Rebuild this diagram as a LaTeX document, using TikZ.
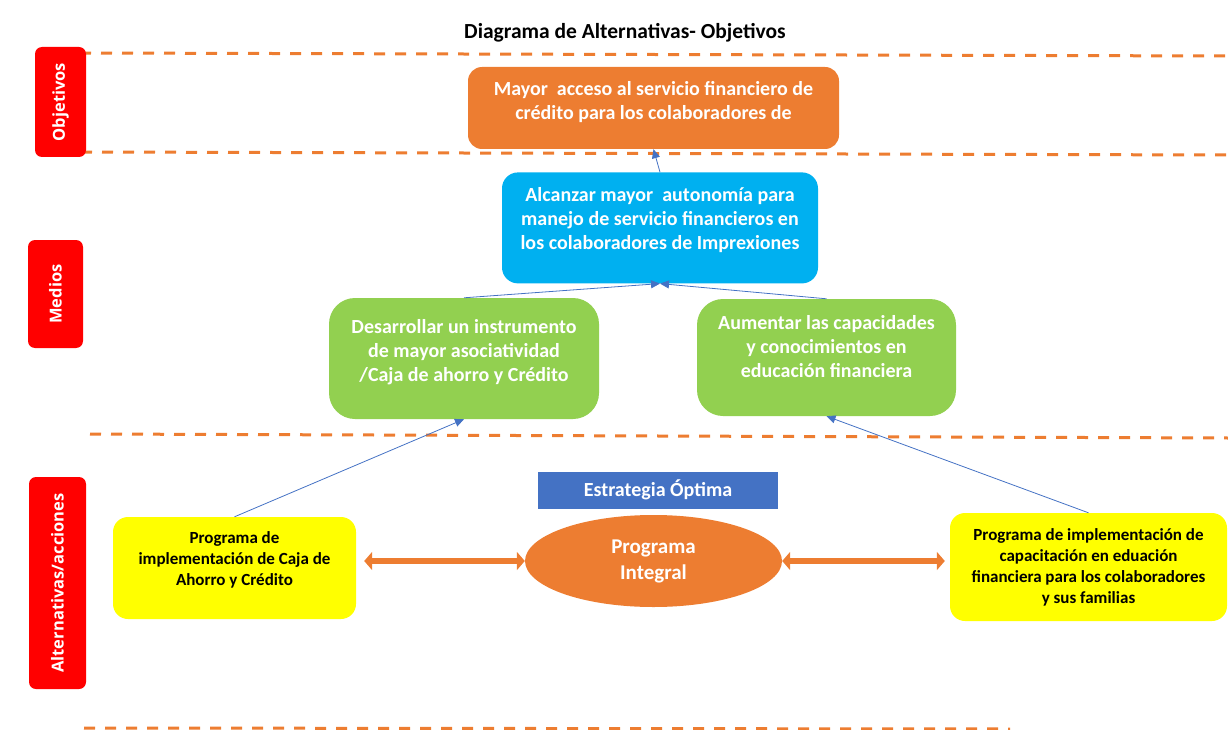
\documentclass[tikz,border=0pt]{standalone}
\usepackage{fontspec}
\setmainfont{Carlito}
\newfontfamily\tagfont{Open Sans}
\usetikzlibrary{positioning,arrows.meta,shapes.geometric}
\definecolor{ofcorange}{HTML}{ED7D31}
\definecolor{ofcblue}{HTML}{4472C4}
\definecolor{ofccyan}{HTML}{00B0F0}
\definecolor{ofcgreen}{HTML}{92D050}
\definecolor{ofcred}{HTML}{FF0000}
\definecolor{ofcyellow}{HTML}{FFFF00}

\begin{document}
\begin{tikzpicture}[
    x=1pt, y=-1pt,
    txt/.style={font=\bfseries\fontsize{20}{24}\selectfont, align=center},
    goalbox/.style={rectangle, fill=ofcorange, text=white, txt, rounded corners=14pt, minimum width=371pt, minimum height=82pt},
    meanbox/.style={rectangle, fill=ofccyan, text=white, txt, rounded corners=16pt, minimum width=316pt, minimum height=111pt},
    subbox/.style={rectangle, fill=ofcgreen, text=white, txt, rounded corners=26pt},
    actbox/.style={rectangle, fill=ofcyellow, text=black, font=\bfseries\fontsize{17}{21}\selectfont, align=center, rounded corners=15pt},
    tagbox/.style={rectangle, fill=ofcred, text=white, font=\tagfont\bfseries\fontsize{16.5}{19}\selectfont, rounded corners=7pt, rotate=90},
    sep/.style={ofcorange, line width=3pt, dash pattern=on 11pt off 10pt},
    link/.style={-{Triangle[length=9pt,width=8pt]}, ofcblue, line width=0.8pt},
    twoway/.style={{Triangle[length=8pt,width=18pt]}-{Triangle[length=8pt,width=18pt]}, ofcorange, line width=6pt}
]
    \useasboundingbox (0,0) rectangle (1228,730);

    % Title
    \node[font=\bfseries\fontsize{21.5}{25}\selectfont] (title) at (625,33) {Diagrama de Alternativas- Objetivos};

    % Separators
    \draw[sep] (80,53) -- (1228,56);
    \draw[sep] (81,152) -- (1228,155);
    \draw[sep] (90,434) -- (1228,438);
    \draw[sep] (84,728) -- (1010,729);

    % Row labels
    \node[tagbox, minimum width=110pt, minimum height=51pt] (tobj) at (60.5,102) {Objetivos};
    \node[tagbox, minimum width=108pt, minimum height=55pt] (tmed) at (55.5,294) {Medios};
    \node[tagbox, minimum width=212pt, minimum height=57pt] (talt) at (57.5,583) {Alternativas/acciones};

    % Objective
    \node[goalbox] (goal) at (653.5,108) {Mayor\ \ acceso al servicio financiero de\\crédito para los colaboradores de\\[-8pt]\mbox{}};

    % Means
    \node[meanbox, below=23pt of goal, xshift=6.5pt] (mid) {Alcanzar mayor\ \ autonomía para\\manejo de servicio financieros en\\los colaboradores de Imprexiones\\[-6pt]\mbox{}};
    \node[subbox, minimum width=270pt, minimum height=121pt] (lg) at (464,358.5) {Desarrollar un instrumento\\de mayor asociatividad\\/Caja de ahorro y Crédito\\[-8pt]\mbox{}};
    \node[subbox, minimum width=259pt, minimum height=117pt] (rg) at (826.5,357.5) {Aumentar las capacidades\\y conocimientos en\\educación financiera\\[-2pt]\mbox{}};

    % Alternatives
    \node[ellipse, fill=ofcorange, text=white, font=\bfseries\fontsize{21}{26}\selectfont, align=center, minimum width=257pt, minimum height=92pt, inner sep=0pt] (prog) at (653.5,561) {Programa\\Integral};
    \node[rectangle, fill=ofcblue, text=white, font=\bfseries\fontsize{20}{22}\selectfont, minimum width=240pt, minimum height=37pt, above=6pt of prog, xshift=4.5pt] (best) {Estrategia Óptima};
    \node[actbox, minimum width=243pt, minimum height=102pt] (ly) at (234.5,568) {Programa de\\implementación de Caja de\\Ahorro y Crédito\\[-3pt]\mbox{}};
    \node[actbox, minimum width=277pt, minimum height=108pt] (ry) at (1088.5,567) {Programa de implementación de\\capacitación en eduación\\financiera para los colaboradores\\y sus familias};

    % Arrows
    \draw[link] (mid.north) -- (goal.south);
    \draw[link] (lg.north) -- (mid.south);
    \draw[link] (rg.north) -- (mid.south);
    \draw[link] (ly.north) -- (lg.south);
    \draw[link] (ry.north) -- (rg.south);
    \draw[twoway, shorten <=8pt] (ly.east |- prog.west) -- (prog.west);
    \draw[twoway, shorten >=5pt] (prog.east) -- (ry.west |- prog.east);
\end{tikzpicture}
\end{document}
